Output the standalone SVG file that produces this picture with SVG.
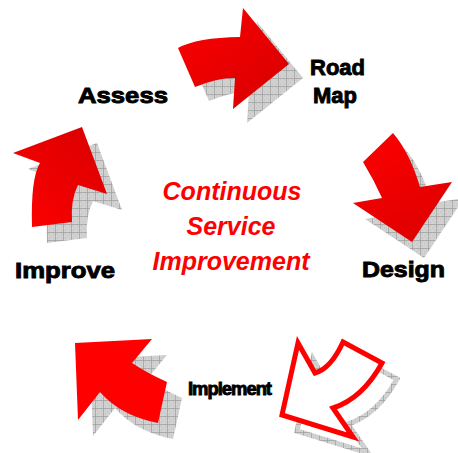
<svg xmlns="http://www.w3.org/2000/svg" width="458" height="453" viewBox="0 0 458 453">
  <defs>
    <pattern id="hatch" width="8" height="8" patternUnits="userSpaceOnUse">
      <rect width="8" height="8" fill="#d2d2d2"/>
      <path d="M0,0.4 H8 M0.4,0 V8" stroke="#9a9a9a" stroke-width="0.8" fill="none"/>
      <path d="M2,2 h1 M6,6 h1 M6,2 h1 M2,6 h1 M4,4 h1" stroke="#bcbcbc" stroke-width="1"/>
    </pattern>
    <linearGradient id="gRoad" x1="0" y1="0" x2="1" y2="1">
      <stop offset="0" stop-color="#ff0000"/>
      <stop offset="1" stop-color="#d40000"/>
    </linearGradient>
    <linearGradient id="gDesign" x1="0" y1="0" x2="0.6" y2="1">
      <stop offset="0" stop-color="#ff0000"/>
      <stop offset="1" stop-color="#e00000"/>
    </linearGradient>
    <linearGradient id="gImprove" x1="0" y1="1" x2="1" y2="0">
      <stop offset="0" stop-color="#ff0000"/>
      <stop offset="1" stop-color="#d80000"/>
    </linearGradient>
    <style>
      .shadow { fill: url(#hatch); }
      .label { font-family: "Liberation Sans", Arial, sans-serif; font-weight: bold; fill: #000; stroke: #000; stroke-width: 0.9; }
      .center { font-family: "Liberation Sans", Arial, sans-serif; font-weight: bold; font-style: italic; font-size: 25px; fill: #ff0000; text-anchor: middle; }
    </style>
  </defs>

  <g id="connectors">
    <g id="arrow-roadmap">
      <path class="shadow" transform="translate(14,14)" d="M178,48 Q197,37.5 240,37 L243,8 L289,64 L233,109 L235,78 Q218.4,77.5 195,87 Z"/>
      <path fill="url(#gRoad)" d="M178,48 Q197,37.5 240,37 L243,8 L289,64 L233,109 L235,78 Q218.4,77.5 195,87 Z"/>
    </g>
    <g id="arrow-design">
      <path class="shadow" transform="translate(12,16)" d="M393,133 Q410,153 420,187 L452,182 L412,242 L353,203 L382,198 Q374,180 363,162 Z"/>
      <path fill="url(#gDesign)" d="M393,133 Q410,153 420,187 L452,182 L412,242 L353,203 L382,198 Q374,180 363,162 Z"/>
    </g>
    <g id="arrow-implement">
      <path transform="translate(15,16)" fill="none" stroke="url(#hatch)" stroke-width="5" stroke-linejoin="miter" d="M343,342 L382,363 Q362.5,398.5 333,408 L353,437 L282,415 L298,343 L315,373 Q331,368.5 343,342 Z"/>
      <path fill="#ffffff" stroke="#ff0000" stroke-width="5" stroke-linejoin="miter" d="M343,342 L382,363 Q362.5,398.5 333,408 L353,437 L282,415 L298,343 L315,373 Q331,368.5 343,342 Z"/>
    </g>
    <g id="arrow-bottomleft">
      <path class="shadow" transform="translate(15,16)" d="M75,343 L152,339 L132,363 Q147,373 167,382 L158,423 Q121,416 100,392 L78,420 Z"/>
      <path fill="#ff0000" d="M75,343 L152,339 L132,363 Q147,373 167,382 L158,423 Q121,416 100,392 L78,420 Z"/>
    </g>
    <g id="arrow-improve">
      <path class="shadow" transform="translate(15,16)" d="M32,227 L72,222 Q70.4,200 78,185 L107,194 L82,127 L13,153 L40,163 Q30.6,178.4 32,227 Z"/>
      <path fill="url(#gImprove)" d="M32,227 L72,222 Q70.4,200 78,185 L107,194 L82,127 L13,153 L40,163 Q30.6,178.4 32,227 Z"/>
    </g>
  </g>

  <g id="node-assess">
    <text class="label" x="78" y="103" font-size="22" textLength="90" lengthAdjust="spacingAndGlyphs">Assess</text>
  </g>
  <g id="node-roadmap">
    <text class="label" x="337.5" y="75" font-size="22" text-anchor="middle">Road</text>
    <text class="label" x="335" y="103" font-size="22" text-anchor="middle">Map</text>
  </g>
  <g id="node-design">
    <text class="label" x="362" y="277" font-size="22" textLength="83" lengthAdjust="spacingAndGlyphs">Design</text>
  </g>
  <g id="node-implement">
    <text class="label" x="188" y="395" font-size="18" textLength="83" lengthAdjust="spacingAndGlyphs" letter-spacing="-1">Implement</text>
  </g>
  <g id="node-improve">
    <text class="label" x="15" y="278" font-size="22" textLength="100" lengthAdjust="spacingAndGlyphs">Improve</text>
  </g>
  <g id="node-center">
    <text class="center" x="232" y="200">Continuous</text>
    <text class="center" x="231" y="235">Service</text>
    <text class="center" x="231" y="270">Improvement</text>
  </g>
</svg>
